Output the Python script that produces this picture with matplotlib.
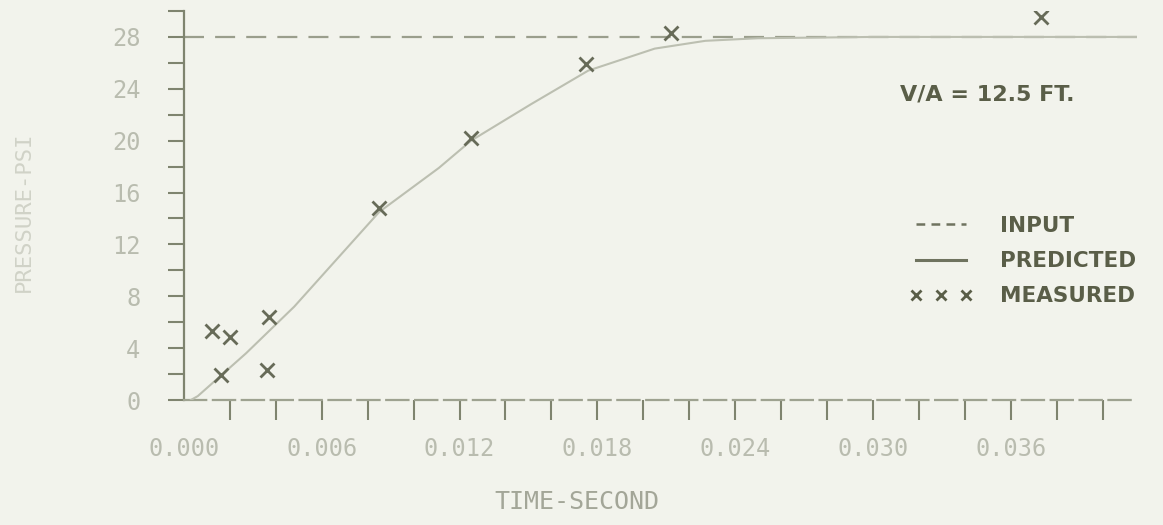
import numpy as np
import matplotlib
matplotlib.use("Agg")
import matplotlib.pyplot as plt
from matplotlib.lines import Line2D

# colours
bg = '#f2f3ec'
axcol = '#7f846f'
markcol = '#676b58'
textcol = '#5a5e48'
faint = '#b9bcaf'

# data (time in seconds, pressure)
t_input = [0.0, 0.0415]
p_input = [28.0, 28.0]

t_pred = [0.0003, 0.0006, 0.0027, 0.0048, 0.0085, 0.0111, 0.0125, 0.0151, 0.0176, 0.0205, 0.0227, 0.0250, 0.0300, 0.0415]
p_pred = [0.0, 0.3, 3.6, 7.2, 14.5, 17.9, 20.0, 22.8, 25.4, 27.1, 27.7, 27.9, 28.0, 28.0]

t_meas = [0.0012, 0.0016, 0.0020, 0.0036, 0.0037, 0.0085, 0.0125, 0.0175, 0.0212, 0.0373]
p_meas = [5.3, 1.9, 4.85, 2.3, 6.4, 14.8, 20.2, 25.9, 28.3, 29.5]

xticks = np.arange(0, 0.0401, 0.002)
xlabel_vals = [0.000, 0.006, 0.012, 0.018, 0.024, 0.030, 0.036]
yticks = np.arange(0, 31, 2)
ylabel_vals = [0, 4, 8, 12, 16, 20, 24, 28]

fig = plt.figure(figsize=(11.63, 5.25), dpi=100, facecolor=bg)
ax = fig.add_axes([184/1163, 125/525, (1137-184)/1163, 389/525], facecolor=bg)

ax.plot(t_input, p_input, color='#9a9e8c', lw=1.6, dashes=(9, 5), zorder=2)
ax.plot(t_pred, p_pred, color='#bcbfb1', lw=1.5, zorder=3)
ax.plot(t_meas, p_meas, ls='none', marker='x', ms=10, mew=2.0, color=markcol, zorder=4)

ax.set_xlim(0, 0.0415)
ax.set_ylim(0, 30)

for s in ['top', 'right']:
    ax.spines[s].set_visible(False)
ax.spines['left'].set_color(axcol)
ax.spines['left'].set_linewidth(1.6)
ax.spines['bottom'].set_color('#9ea290')
ax.spines['bottom'].set_linewidth(1.6)
ax.spines['bottom'].set_linestyle((0, (10, 3)))

ax.set_xticks(xticks)
ax.set_xticklabels([f"{v:.3f}" if any(abs(v - l) < 1e-9 for l in xlabel_vals) else '' for v in xticks])
ax.set_yticks(yticks)
ax.set_yticklabels([str(v) if v in ylabel_vals else '' for v in yticks])
ax.xaxis.get_major_ticks()[0].tick1line.set_visible(False)

ax.tick_params(axis='x', direction='out', length=14.5, width=1.5, color=axcol, pad=12,
               labelsize=17, labelcolor=faint)
ax.tick_params(axis='y', direction='out', length=11.5, width=1.5, color=axcol, pad=20,
               labelsize=17, labelcolor=faint)
for lab in ax.get_xticklabels() + ax.get_yticklabels():
    lab.set_family('DejaVu Sans Mono')

ax.set_xlabel('TIME-SECOND', family='DejaVu Sans Mono', fontsize=18, color='#a3a698')
ax.xaxis.set_label_coords((577 - 184) / 953, -90 / 389)
ax.set_ylabel('PRESSURE-PSI', family='DejaVu Sans Mono', fontsize=16, color='#d0d2c7')
ax.yaxis.set_label_coords(-(184 - 34) / 953, (400 - 212) / 389)

fig.text(900/1163, 1 - 95/525, 'V/A = 12.5 FT.', family='DejaVu Sans', weight='bold',
         fontsize=16, color=textcol, va='center', ha='left')

handles = [Line2D([], [], color='#6f735f', lw=1.8, dashes=(3.5, 2.5)),
           Line2D([], [], color='#6f735f', lw=2.2),
           Line2D([], [], ls='none', marker='x', ms=7, mew=2, color=textcol)]
leg = fig.legend(handles, ['INPUT', 'PREDICTED', 'MEASURED'], loc='upper left',
                 bbox_to_anchor=(910/1163, 1 - 216/525), frameon=False, numpoints=3,
                 handlelength=2.9, handletextpad=1.3, labelspacing=0.7, borderpad=0,
                 borderaxespad=0, prop={'family': 'DejaVu Sans', 'weight': 'bold', 'size': 15.5})
for txt in leg.get_texts():
    txt.set_color(textcol)

fig.savefig('out.png', dpi=100, facecolor=bg)
